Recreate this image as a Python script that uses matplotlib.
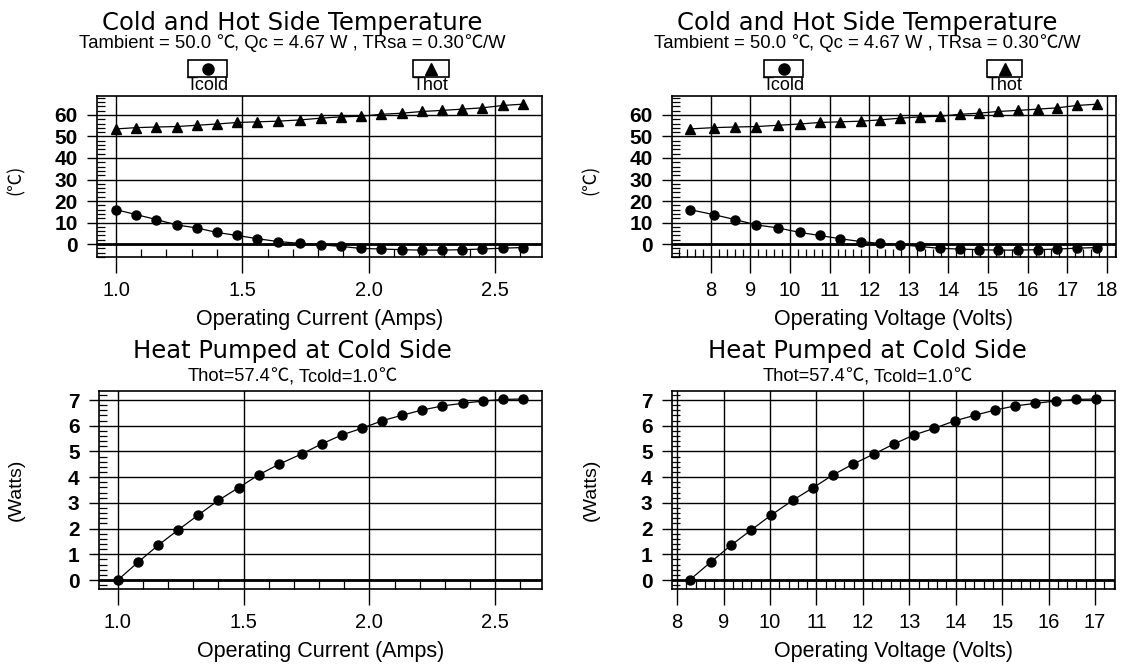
import matplotlib
matplotlib.use("Agg")
import matplotlib.pyplot as plt
from matplotlib.patches import Rectangle
from matplotlib.lines import Line2D
from matplotlib.ticker import MultipleLocator, FixedLocator

plt.rcParams['font.family'] = ['Liberation Sans', 'Noto Sans CJK SC', 'DejaVu Sans']

# ---------------- data ----------------
current = [1.00, 1.08, 1.16, 1.24, 1.32, 1.40, 1.48, 1.56, 1.64, 1.73, 1.81,
           1.89, 1.97, 2.05, 2.13, 2.21, 2.29, 2.37, 2.45, 2.53, 2.61]
voltage_temp = [7.47, 8.07, 8.61, 9.15, 9.70, 10.25, 10.75, 11.26, 11.78, 12.27, 12.78,
                13.27, 13.79, 14.28, 14.76, 15.24, 15.75, 16.26, 16.75, 17.24, 17.75]
voltage_heat = [8.27, 8.72, 9.16, 9.60, 10.03, 10.49, 10.93, 11.36, 11.78, 12.24, 12.67,
                13.10, 13.54, 13.98, 14.42, 14.85, 15.28, 15.71, 16.15, 16.59, 17.02]
t_cold = [16.0, 13.7, 11.4, 8.9, 7.5, 5.4, 4.0, 2.5, 1.2, 0.3, -0.3,
          -1.1, -2.0, -2.3, -2.6, -2.8, -2.8, -2.6, -2.3, -1.9, -1.6]
t_hot = [53.5, 54.1, 54.4, 54.6, 55.2, 55.8, 56.5, 56.8, 57.1, 57.7, 58.5,
         59.1, 59.4, 60.3, 60.8, 61.6, 62.1, 62.7, 63.3, 64.4, 65.0]
q_cold = [0.0, 0.69, 1.35, 1.95, 2.53, 3.10, 3.59, 4.09, 4.50, 4.90, 5.29,
          5.64, 5.90, 6.19, 6.41, 6.61, 6.77, 6.87, 6.96, 7.02, 7.04]

current_ticks = [1.0, 1.5, 2.0, 2.5]
current_ticklabels = ["1.0", "1.5", "2.0", "2.5"]
volt_ticks_top = [8, 9, 10, 11, 12, 13, 14, 15, 16, 17, 18]
volt_ticks_bottom = [8, 9, 10, 11, 12, 13, 14, 15, 16, 17]
temp_ticks = [0, 10, 20, 30, 40, 50, 60]
heat_ticks = [0, 1, 2, 3, 4, 5, 6, 7]

DEG = "\u2103"
title_temp = "Cold and Hot Side Temperature"
sub_temp = ["Tambient = 50.0 ", DEG, ", Qc = 4.67 W , TRsa = 0.30", DEG, "/W"]
title_heat = "Heat Pumped at Cold Side"
sub_heat = ["Thot=57.4", DEG, ", Tcold=1.0", DEG]
xlabel_cur = "Operating Current (Amps)"
xlabel_volt = "Operating Voltage (Volts)"
ylabel_temp = "(" + DEG + ")"
ylabel_heat = "(Watts)"

LATIN = 'Liberation Sans'
CJK = 'Noto Sans CJK SC'

W, H = 1121, 666
fig = plt.figure(figsize=(W / 100, H / 100), dpi=100)
renderer = fig.canvas.get_renderer()


def fx(x):
    return x / W


def fy(y):
    return 1 - y / H


def make_axes(left, right, top, bottom):
    return fig.add_axes([fx(left), fy(bottom), (right - left) / W, (bottom - top) / H])


def mixed_text(cx, y, pieces, size):
    texts = []
    for s in pieces:
        fam = CJK if s == DEG else LATIN
        texts.append(fig.text(0, fy(y), s, family=fam, fontsize=size,
                              ha='left', va='baseline'))
    widths = [t.get_window_extent(renderer).width for t in texts]
    x = cx - sum(widths) / 2
    for t, w in zip(texts, widths):
        t.set_x(fx(x))
        x += w


def style(ax, xticks, xlabels, yticks, xminor, yminor, xlim, ylim):
    ax.set_xlim(*xlim)
    ax.set_ylim(*ylim)
    ax.xaxis.set_major_locator(FixedLocator(xticks))
    ax.set_xticklabels(xlabels)
    ax.yaxis.set_major_locator(FixedLocator(yticks))
    ax.xaxis.set_minor_locator(MultipleLocator(xminor))
    ax.yaxis.set_minor_locator(MultipleLocator(yminor))
    ax.grid(True, which='major', color='black', lw=1.0)
    ax.tick_params(axis='x', which='major', direction='out', length=11.5, width=1.0,
                   pad=6, labelsize=14.5)
    ax.tick_params(axis='y', which='major', direction='out', length=7, width=1.0,
                   pad=7, labelsize=15)
    for lab in ax.get_yticklabels():
        lab.set_fontweight('bold')
    ax.tick_params(axis='x', which='minor', direction='in', length=6, width=0.9)
    ax.tick_params(axis='y', which='minor', direction='in', length=6, width=0.9)
    for s in ax.spines.values():
        s.set_linewidth(1.2)
    ax.axhline(0, color='black', lw=2.0, zorder=2)


# ---------------- top-left ----------------
ax1 = make_axes(97, 542, 96, 257)
ax1.plot(current, t_hot, color='black', lw=0.9, marker='^', ms=7, zorder=3)
ax1.plot(current, t_cold, color='black', lw=0.9, marker='o', ms=6.5, zorder=3)
style(ax1, current_ticks, current_ticklabels, temp_ticks, 0.1, 2, (0.925, 2.686), (-6.0, 68.8))
ax1.set_xlabel(xlabel_cur, fontsize=15.5, labelpad=6)

# ---------------- top-right ----------------
ax2 = make_axes(672, 1116, 96, 257)
ax2.plot(voltage_temp, t_hot, color='black', lw=0.9, marker='^', ms=7, zorder=3)
ax2.plot(voltage_temp, t_cold, color='black', lw=0.9, marker='o', ms=6.5, zorder=3)
style(ax2, volt_ticks_top, [str(v) for v in volt_ticks_top], temp_ticks, 0.2, 2,
      (7.02, 18.23), (-6.0, 68.8))
ax2.set_xlabel(xlabel_volt, fontsize=15.5, labelpad=6)

# ---------------- bottom-left ----------------
ax3 = make_axes(99, 542, 391, 589)
ax3.plot(current, q_cold, color='black', lw=0.9, marker='o', ms=6.5, zorder=3, clip_on=False)
style(ax3, current_ticks, current_ticklabels, heat_ticks, 0.1, 0.2, (0.925, 2.686), (-0.35, 7.35))
ax3.set_xlabel(xlabel_cur, fontsize=15.5, labelpad=6)

# ---------------- bottom-right ----------------
ax4 = make_axes(672, 1115, 391, 589)
ax4.plot(voltage_heat, q_cold, color='black', lw=0.9, marker='o', ms=6.5, zorder=3, clip_on=False)
style(ax4, volt_ticks_bottom, [str(v) for v in volt_ticks_bottom], heat_ticks, 0.2, 0.2,
      (7.89, 17.43), (-0.35, 7.35))
ax4.set_xlabel(xlabel_volt, fontsize=15.5, labelpad=6)

# ---------------- titles ----------------
for cx in (292, 867):
    fig.text(fx(cx), fy(30), title_temp, ha='center', va='baseline', fontsize=17.5,
             family='DejaVu Sans')
    mixed_text(cx, 48, sub_temp, 13.3)
    fig.text(fx(cx), fy(358), title_heat, ha='center', va='baseline', fontsize=17.5,
             family='DejaVu Sans')
    mixed_text(cx, 381, sub_heat, 13.2)

for xl in (16, 591):
    fig.text(fx(xl), fy(180), ylabel_temp, rotation=90, ha='center', va='center',
             fontsize=13, family=CJK)
    fig.text(fx(xl), fy(490), ylabel_heat, rotation=90, ha='center', va='center',
             fontsize=14)

# ---------------- legends ----------------
legend_items = [(188, 227, 'o', 'Tcold'), (413, 449, '^', 'Thot'),
                (764, 803, 'o', 'Tcold'), (987, 1022, '^', 'Thot')]
for x0, x1, mk, lab in legend_items:
    fig.add_artist(Rectangle((fx(x0), fy(77)), (x1 - x0) / W, 17 / H,
                             transform=fig.transFigure, fill=False, lw=1.2, ec='black'))
    fig.add_artist(Line2D([fx((x0 + x1) / 2)], [fy(68.5)], marker=mk, ms=8, color='black',
                          ls='none', transform=fig.transFigure))
    fig.text(fx((x0 + x1) / 2), fy(85), lab, ha='center', va='center', fontsize=13)

fig.savefig("out.png", dpi=100)
